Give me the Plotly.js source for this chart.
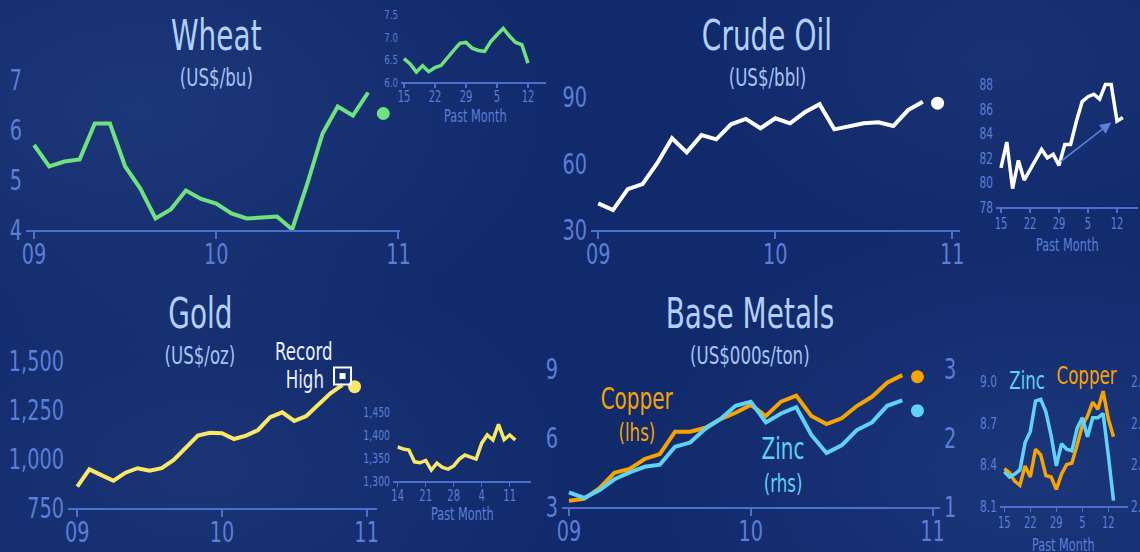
<!DOCTYPE html>
<html>
<head>
<meta charset="utf-8">
<script src="https://cdn.plot.ly/plotly-3.0.1.min.js"></script>
<style>
html,body{margin:0;padding:0;}
body{width:1140px;height:552px;overflow:hidden;
background:
 radial-gradient(ellipse 420px 260px at 140px 110px, rgba(38,66,130,0.55), rgba(38,66,130,0) 100%),
 radial-gradient(ellipse 380px 240px at 200px 470px, rgba(36,62,125,0.5), rgba(36,62,125,0) 100%),
 radial-gradient(ellipse 400px 260px at 1040px 470px, rgba(36,66,135,0.5), rgba(36,66,135,0) 100%),
 radial-gradient(ellipse 300px 200px at 1000px 60px, rgba(34,60,125,0.45), rgba(34,60,125,0) 100%),
 #112a6c;}
#chart{width:1140px;height:552px;}
</style>
</head>
<body>
<div id="chart"></div>
<script>
// ---------------- DATA ----------------
// Monthly series: Jan 2009 .. Nov 2010 (23 months); marker = latest (Dec 2010 position)
const months = ['Jan-09','Feb-09','Mar-09','Apr-09','May-09','Jun-09','Jul-09','Aug-09','Sep-09','Oct-09','Nov-09','Dec-09',
                'Jan-10','Feb-10','Mar-10','Apr-10','May-10','Jun-10','Jul-10','Aug-10','Sep-10','Oct-10','Nov-10'];
const latestMonth = 'Dec-10';
const yearTickMonths = ['Jan-09','Jan-10','Jan-11'];
const yearTickText = ['09','10','11'];

const wheat = [5.70,5.27,5.37,5.41,6.13,6.13,5.27,4.83,4.23,4.41,4.79,4.62,4.53,4.33,4.23,4.25,4.27,4.01,4.93,5.93,6.47,6.29,6.75];
const wheatLatest = 6.33;
const crude = [42.0,39.0,48.4,50.7,60.1,71.4,65.0,72.8,70.9,77.7,80.1,75.9,80.4,78.1,83.1,86.7,75.4,76.9,78.1,78.6,76.9,84.1,87.9];
const crudeLatest = 87.2;
const gold = [859,947,918,889,930,953,940,953,995,1055,1119,1134,1131,1102,1119,1148,1213,1238,1194,1219,1276,1335,1378];
const goldLatest = 1369;
const goldRecordMonth = 'Nov-10'; const goldRecordLevel = 1423;
const copper = [3.27,3.35,3.81,4.48,4.65,5.08,5.29,6.26,6.26,6.43,6.80,7.08,7.42,6.94,7.56,7.82,6.94,6.59,6.84,7.37,7.77,8.38,8.71];
const copperLatest = 8.64;
const zinc = [1.21,1.13,1.24,1.40,1.50,1.58,1.61,1.87,1.93,2.13,2.27,2.46,2.52,2.22,2.35,2.44,2.04,1.78,1.89,2.11,2.22,2.46,2.54];
const zincLatest = 2.39;

// Daily series (past month, trading days)
const wheatDays = ['Oct15','Oct18','Oct19','Oct20','Oct21','Oct22','Oct25','Oct26','Oct27','Oct28','Oct29',
                   'Nov1','Nov2','Nov3','Nov4','Nov5','Nov8','Nov9','Nov10','Nov11','Nov12'];
const wheatDaily = [6.52,6.40,6.22,6.36,6.23,6.32,6.37,6.55,6.70,6.86,6.88,6.75,6.70,6.68,6.90,7.05,7.19,7.02,6.88,6.83,6.42];
const wheatDayTicks = ['Oct15','Oct22','Oct29','Nov5','Nov12'];
const wheatDayText = ['15','22','29','5','12'];

const crudeDays = ['Oct15','Oct18','Oct19','Oct20','Oct21','Oct22','Oct25','Oct26','Oct27','Oct28','Oct29',
                   'Nov1','Nov2','Nov3','Nov4','Nov5','Nov8','Nov9','Nov10','Nov11','Nov12','Nov15'];
const crudeDaily = [81.2,83.3,79.5,81.8,80.2,81.0,81.9,82.7,82.0,82.3,81.4,83.1,83.1,85.0,86.6,87.0,87.2,86.8,88.0,88.0,85.0,85.3];
const crudeDayTicks = ['Oct15','Oct22','Oct29','Nov5','Nov12'];
const crudeDayText = ['15','22','29','5','12'];
const crudeTrendFrom = ['Oct29', 81.6]; const crudeTrendTo = ['Nov11', 84.9];

const goldDays = ['Oct14','Oct15','Oct18','Oct19','Oct20','Oct21','Oct22','Oct25','Oct26','Oct27','Oct28','Oct29',
                  'Nov1','Nov2','Nov3','Nov4','Nov5','Nov8','Nov9','Nov10','Nov11','Nov12'];
const goldDaily = [1375,1370,1368,1342,1340,1345,1324,1339,1330,1326,1333,1348,1357,1352,1348,1383,1401,1390,1424,1391,1401,1390];
const goldDayTicks = ['Oct14','Oct21','Oct28','Nov4','Nov11'];
const goldDayText = ['14','21','28','4','11'];

const metalDays = crudeDays;
const copperDaily = [8.37,8.34,8.28,8.25,8.39,8.31,8.51,8.47,8.32,8.31,8.22,8.33,8.40,8.41,8.54,8.68,8.75,8.85,8.80,8.93,8.73,8.60];
const zincDaily = [2.383,2.370,2.377,2.387,2.453,2.480,2.553,2.557,2.527,2.470,2.397,2.450,2.437,2.433,2.487,2.513,2.467,2.513,2.513,2.523,2.423,2.313];
const metalDayTicks = ['Oct15','Oct22','Oct29','Nov5','Nov12'];
const metalDayText = ['15','22','29','5','12'];

const wheatTicks = [4,5,6,7], crudeTicks = [30,60,90], goldTicks = [750,1000,1250,1500];
const copperTicks = [3,6,9], zincTicks = [1,2,3];
const wheatDTicks = [6.0,6.5,7.0,7.5], crudeDTicks = [78,80,82,84,86,88], goldDTicks = [1300,1350,1400,1450];
const copperDTicks = [8.1,8.4,8.7,9.0], zincDTicks = [2.3,2.4,2.5,2.6];

// ---------------- HELPERS ----------------
const allMonths = months.concat([latestMonth, 'Jan-11']);
const mIdx = m => allMonths.indexOf(m);
const idxOf = (arr, v) => arr.indexOf(v);

const FONT = "'DejaVu Sans Condensed', 'DejaVu Sans', sans-serif";
const NARROW = 0.74;
const TICK = '#5a7fd8', AXIS = '#4a6fcf', TITLE = '#b2d0ff', SUB = '#a5c3f3';
const GREEN = '#6fe27d', WHITE = '#ffffff', YELLOW = '#f8e866', ORANGE = '#f7a300', CYAN = '#5fd2f7';
const W = 1140, H = 552;
const dx = (a,b) => [a/W, b/W];
const dy = (top,bot) => [1-bot/H, 1-top/H];

function xAxis(px, range, tv, tt, anchor, big, standoff){
  return {domain: dx(px[0],px[1]), range: range, anchor: anchor, showgrid:false, zeroline:false,
    showline:true, linecolor: AXIS, linewidth: 2, ticks:'outside', ticklen: big?7:4, tickwidth: big?2:1.5, tickcolor: AXIS,
    ticklabelstandoff: standoff,
    tickvals: tv, ticktext: tt, tickfont:{family:FONT, size: big?29:15, color: TICK}, fixedrange:true};
}
function yAxis(py, range, tv, anchor, big, extra){
  return Object.assign({domain: dy(py[0],py[1]), range: range, anchor: anchor, showgrid:false, zeroline:false,
    showline:false, ticks:'', tickvals: tv, ticklabelstandoff: big?3:2,
    tickfont:{family:FONT, size: big?29:14, color: TICK}, fixedrange:true}, extra||{});
}

const line = (x, y, xa, ya, color, w) => ({x:x, y:y, xaxis:xa, yaxis:ya, mode:'lines', type:'scatter',
  line:{color:color, width:w}, hoverinfo:'skip', cliponaxis:false});
const dot = (x, y, xa, ya, color) => ({x:[x], y:[y], xaxis:xa, yaxis:ya, mode:'markers', type:'scatter',
  marker:{color:color, size:13}, hoverinfo:'skip', cliponaxis:false});

const mx = months.map(mIdx);
const dayX = arr => arr.map((d,i)=>i);

const traces = [
  line(mx, wheat, 'x','y', GREEN, 4), dot(mIdx(latestMonth), wheatLatest, 'x','y', GREEN),
  line(dayX(wheatDays), wheatDaily, 'x2','y2', GREEN, 3.5),
  line(mx, crude, 'x3','y3', WHITE, 4), dot(mIdx(latestMonth), crudeLatest, 'x3','y3', WHITE),
  line(dayX(crudeDays), crudeDaily, 'x4','y4', WHITE, 3.5),
  line(mx, gold, 'x5','y5', YELLOW, 4), dot(mIdx(latestMonth), goldLatest, 'x5','y5', YELLOW),
  {x:[mIdx(goldRecordMonth)], y:[goldRecordLevel], xaxis:'x5', yaxis:'y5', mode:'markers', type:'scatter',
    marker:{symbol:'square-open', size:17, color:WHITE, line:{color:WHITE, width:2}}, hoverinfo:'skip', cliponaxis:false},
  {x:[mIdx(goldRecordMonth)], y:[goldRecordLevel], xaxis:'x5', yaxis:'y5', mode:'markers', type:'scatter',
    marker:{symbol:'square', size:6, color:WHITE}, hoverinfo:'skip', cliponaxis:false},
  line(dayX(goldDays), goldDaily, 'x6','y6', YELLOW, 3.5),
  line(mx, zinc, 'x7','y9', CYAN, 4), dot(mIdx(latestMonth), zincLatest, 'x7','y9', CYAN),
  line(mx, copper, 'x7','y7', ORANGE, 4), dot(mIdx(latestMonth), copperLatest, 'x7','y7', ORANGE),
  line(dayX(metalDays), zincDaily, 'x8','y10', CYAN, 3.5),
  line(dayX(metalDays), copperDaily, 'x8','y8', ORANGE, 3.5)
];

const tickIdx = (ticks, days) => ticks.map(t => idxOf(days, t));

function ann(text, px, py, size, color, extra){
  return Object.assign({text:text, x:px/W, y:1-py/H, xref:'paper', yref:'paper', showarrow:false,
    xanchor:'center', yanchor:'middle', font:{family:FONT, size:size, color:color}}, extra||{});
}

const layout = {
  width: W, height: H, margin:{l:0,r:0,t:0,b:0}, showlegend:false,
  paper_bgcolor:'rgba(0,0,0,0)', plot_bgcolor:'rgba(0,0,0,0)',
  font:{family:FONT},
  xaxis:  xAxis([26,400], [-0.53,24.1], yearTickMonths.map(mIdx), yearTickText, 'y', true, -10),
  yaxis:  yAxis([60,230], [4,7.4], wheatTicks, 'x', true),
  xaxis2: xAxis([401,546], [-0.48,22.9], tickIdx(wheatDayTicks, wheatDays), wheatDayText, 'y2', false, -4),
  yaxis2: yAxis([5,82], [6.0,7.711], wheatDTicks, 'x2', false, {tickformat:'.1f', tickfont:{family:FONT,size:13,color:TICK}}),
  xaxis3: xAxis([591,960], [-0.49,24.52], yearTickMonths.map(mIdx), yearTickText, 'y3', true, -10),
  yaxis3: yAxis([80,230], [30,97.66], crudeTicks, 'x3', true),
  xaxis4: xAxis([996,1138], [-0.86,23.62], tickIdx(crudeDayTicks, crudeDays), crudeDayText, 'y4', false, -2),
  yaxis4: yAxis([70,207], [78,89.18], crudeDTicks, 'x4', false, {tickfont:{family:FONT,size:16,color:TICK}}),
  xaxis5: xAxis([68,377], [-0.77,24.86], yearTickMonths.map(mIdx), yearTickText, 'y5', true, -10),
  yaxis5: yAxis([340,508], [750,1607], goldTicks, 'x5', true, {tickformat:',d'}),
  xaxis6: xAxis([393,531], [-0.84,23.8], tickIdx(goldDayTicks, goldDays), goldDayText, 'y6', false, -4),
  yaxis6: yAxis([400,481], [1300,1477.6], goldDTicks, 'x6', false, {tickformat:',d'}),
  xaxis7: xAxis([562,940], [-0.46,24.49], yearTickMonths.map(mIdx), yearTickText, 'y7', true, -10),
  yaxis7: yAxis([340,507], [3,10.23], copperTicks, 'x7', true),
  yaxis9: yAxis([340,507], [1,3.41], zincTicks, 'x7', true, {overlaying:'y7', side:'right'}),
  xaxis8: xAxis([1000,1128], [-0.83,23.79], tickIdx(metalDayTicks, metalDays), metalDayText, 'y8', false, -2),
  yaxis8: yAxis([370,506], [8.1,9.083], copperDTicks, 'x8', false, {tickformat:'.1f', tickfont:{family:FONT,size:16,color:TICK}}),
  yaxis10: yAxis([370,506], [2.3,2.628], zincDTicks, 'x8', false, {overlaying:'y8', side:'right', tickformat:'.1f', tickfont:{family:FONT,size:16,color:TICK}}),
  annotations: [
    ann('Wheat', 216, 36, 42, TITLE), ann('(US$/bu)', 216, 78, 25, SUB),
    ann('Crude Oil', 767, 36, 42, TITLE), ann('(US$/bbl)', 767, 78, 25, SUB),
    ann('Gold', 200, 313, 42, TITLE), ann('(US$/oz)', 200, 355, 25, SUB),
    ann('Base Metals', 750, 313, 42, TITLE), ann('(US$000s/ton)', 750, 355, 25, SUB),
    ann('Record', 304, 351, 25, '#e8eeff'), ann('High', 305, 379, 25, '#e8eeff'),
    ann('Copper', 637, 398, 30, ORANGE), ann('(lhs)', 637, 432, 25, ORANGE),
    ann('Zinc', 783, 448, 30, CYAN), ann('(rhs)', 783, 483, 25, CYAN),
    ann('Zinc', 1027, 380, 25, CYAN), ann('Copper', 1087, 375, 25, ORANGE),
    ann('Past Month', 475, 116, 17, TICK), ann('Past Month', 1067, 245, 17, TICK),
    ann('Past Month', 462, 514, 17, TICK), ann('Past Month', 1063, 545, 17, TICK),
    {x: idxOf(crudeDays, crudeTrendTo[0]), y: crudeTrendTo[1], ax: idxOf(crudeDays, crudeTrendFrom[0]), ay: crudeTrendFrom[1],
     xref:'x4', yref:'y4', axref:'x4', ayref:'y4', showarrow:true, arrowhead:2, arrowsize:1.4, arrowwidth:1.6,
     arrowcolor:'#5a80d8', text:''}
  ]
};

// condense every text horizontally about its own anchor point (emulates a condensed typeface)
function condenseTexts(gd){
  gd.querySelectorAll('svg text').forEach(t => {
    const x = parseFloat(t.getAttribute('x')) || 0;
    const tr = t.getAttribute('transform') || '';
    t.setAttribute('transform', (tr + ' translate(' + x + ',0) scale(' + NARROW + ',1) translate(' + (-x) + ',0)').trim());
  });
}

Plotly.newPlot('chart', traces, layout, {displayModeBar:false, staticPlot:true}).then(condenseTexts);
</script>
</body>
</html>
